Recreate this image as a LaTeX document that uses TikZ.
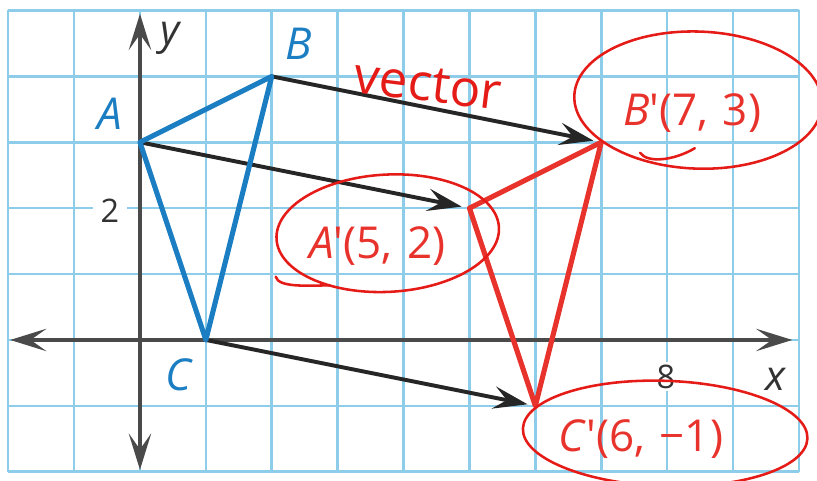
\documentclass[tikz,border=0pt]{standalone}
\usepackage{fontspec}
\setmainfont{Open Sans}
\newfontfamily\lab{Open Sans}
\usetikzlibrary{arrows.meta}
\definecolor{gridblue}{HTML}{8DCDEA}
\definecolor{triblue}{HTML}{1C7EC2}
\definecolor{trired}{HTML}{E8322C}
\definecolor{ink}{HTML}{E41B17}
\definecolor{axisgray}{HTML}{4A4A4A}
\definecolor{numgray}{HTML}{333333}
\tikzset{
  gridline/.style={gridblue, line width=1.1pt},
  axisline/.style={axisgray, line width=1.7pt,
    {Stealth[length=5.5mm,width=3.4mm,inset=2.4mm]}-{Stealth[length=5.5mm,width=3.4mm,inset=2.4mm]}},
  vecarrow/.style={black!85, line width=1.7pt, shorten >=0.12cm,
    -{Stealth[length=5.2mm,width=3.4mm,inset=2mm]}},
  tri/.style={line width=2.2pt, line join=round, line cap=round},
  biglab/.style={font=\lab\fontsize{19}{20}\selectfont, inner sep=0pt, anchor=base},
  numlab/.style={font=\lab\fontsize{14}{16}\selectfont, text=numgray, fill=white,
    inner xsep=0.12cm, inner ysep=0.04cm, anchor=base},
  axlab/.style={font=\lab\itshape\fontsize{18}{20}\selectfont, text=numgray, inner sep=0pt, anchor=base},
  handink/.style={ink, line width=1.1pt, line cap=round},
}
\begin{document}
\begin{tikzpicture}
\useasboundingbox (-2.124,-2.14) rectangle (10.274,5.159);
% grid
\draw[gridline] (-2,-2) grid (10,5);
% number labels (white background over grid)
\node[numlab] (two) at (-0.455,1.79) {2};
\node[numlab] (eight) at (7.98,-0.73) {8};
% axes
\coordinate (xl) at (-1.97,0);
\coordinate (xr) at (9.9,0);
\coordinate (yb) at (0,-1.97);
\coordinate (yt) at (0,4.95);
\draw[axisline] (xl) -- (xr);
\draw[axisline] (yb) -- (yt);
\node[axlab] (ylab) at (0.45,4.48) {y};
\node[axlab] (xlab) at (9.64,-0.76) {x};
% vertices
\coordinate (A) at (0,3);
\coordinate (B) at (2,4);
\coordinate (C) at (1,0);
\coordinate (A2) at (5,2);
\coordinate (B2) at (7,3);
\coordinate (C2) at (6,-1);
% translation vectors
\draw[vecarrow] (A) -- (A2);
\draw[vecarrow] (B) -- (B2);
\draw[vecarrow] (C) -- (C2);
% triangles
\draw[tri, triblue] (A) -- (B) -- (C) -- cycle;
\draw[tri, trired] (A2) -- (B2) -- (C2) -- cycle;
% vertex labels
\node[biglab, text=triblue] (Alab) at (-0.455,3.19) {\itshape A};
\node[biglab, text=triblue] (Blab) at (2.41,4.25) {\itshape B};
\node[biglab, text=triblue] (Clab) at (0.58,-0.76) {\itshape C};
\node[biglab, text=trired] (A2lab) at (3.6,1.24) {\itshape A\/\upshape'(5,\,\,2)};
\node[biglab, text=trired] (B2lab) at (8.38,3.26) {\itshape B\/\upshape'(7,\,\,3)};
\node[biglab, text=trired] (C2lab) at (7.6,-1.70) {\itshape C\/\upshape'(6,\,\,−1)};
% handwritten annotations
\node[font=\lab\fontsize{22}{24}\selectfont, text=ink, inner sep=0pt, rotate=-7] (vec) at (4.37,3.87) {vector};
\coordinate (Aell) at (3.76,1.62);
\coordinate (Bell) at (8.47,3.64);
\coordinate (Cell) at (7.97,-1.42);
\draw[handink] (Aell) ellipse [x radius=1.69cm, y radius=0.89cm, rotate=3];
\draw[handink] (Bell) ellipse [x radius=1.88cm, y radius=1.04cm, rotate=-2];
\draw[handink] (Cell) ellipse [x radius=2.16cm, y radius=0.80cm, rotate=-2];
\coordinate (At1) at (2.06,0.96);
\coordinate (At2) at (2.88,0.83);
\draw[handink] (At1) .. controls (2.1,0.8) and (2.5,0.82) .. (At2);
\coordinate (Bt1) at (7.59,2.84);
\coordinate (Bt2) at (8.42,2.91);
\draw[handink] (Bt1) .. controls (7.7,2.68) and (8.1,2.72) .. (Bt2);
\end{tikzpicture}
\end{document}
